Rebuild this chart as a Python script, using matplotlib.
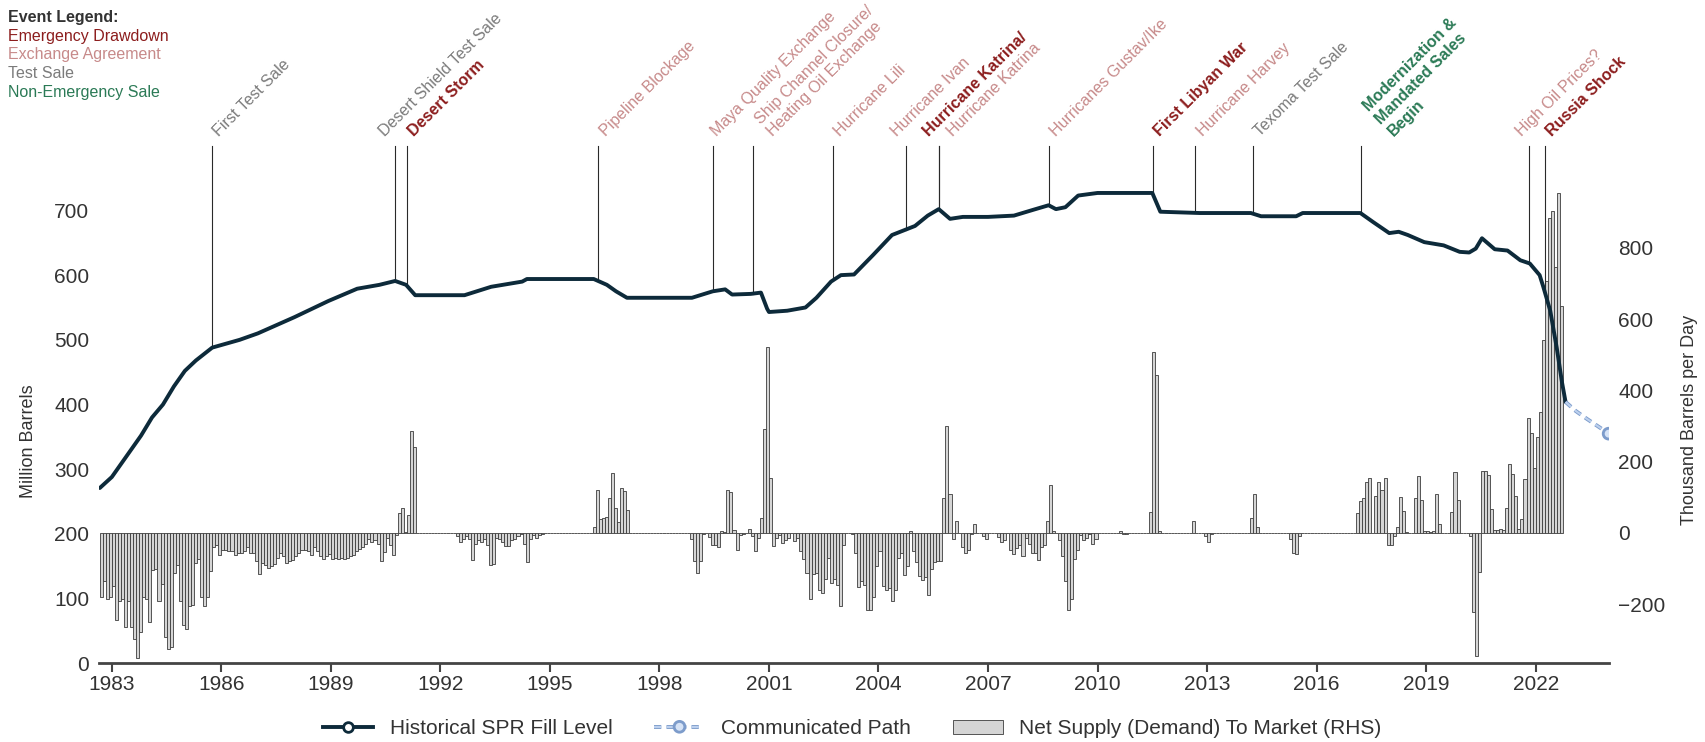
"""SPR fill level vs. net supply to market"""

import matplotlib
matplotlib.use("Agg")

import matplotlib.pyplot as plt
import matplotlib.patheffects as pe
from matplotlib.lines import Line2D
from matplotlib.patches import Patch
import numpy as np
import pandas as pd

plt.rcParams["font.family"] = ["Liberation Sans", "DejaVu Sans"]

# ── data ─────────────────────────────────────────────────────

# historical SPR fill level (million barrels)
line_years = [1982.67, 1983.0, 1983.4, 1983.8, 1984.1, 1984.4, 1984.7, 1985.0,
              1985.3, 1985.75, 1986.5, 1987.0, 1988.0, 1988.93, 1989.72, 1990.33,
              1990.76, 1991.06, 1991.31, 1992.66, 1993.39, 1994.24, 1994.37, 1996.2,
              1996.56, 1996.81, 1997.11, 1998.89, 1999.46, 1999.8, 1999.99, 2000.5,
              2000.78, 2000.95, 2001.0, 2001.5, 2002.0, 2002.3, 2002.7, 2002.97,
              2003.33, 2003.85, 2004.37, 2004.73, 2005.0, 2005.35, 2005.65, 2005.96,
              2006.31, 2007.0, 2007.71, 2008.24, 2008.66, 2008.86, 2009.12, 2009.47,
              2010.0, 2011.5, 2011.72, 2012.8, 2014.2, 2014.48, 2015.44, 2015.62,
              2017.2, 2017.55, 2017.99, 2018.25, 2018.5, 2018.95, 2019.48, 2019.92,
              2020.18, 2020.36, 2020.53, 2020.88, 2021.23, 2021.58, 2021.84, 2022.11,
              2022.21, 2022.4, 2022.58, 2022.72, 2022.82]
line_levels = [271, 288, 320, 352, 380, 400, 428, 452,
               468, 488, 500, 510, 535, 560, 579, 585,
               591, 585, 569, 569, 582, 590, 594, 594,
               585, 575, 565, 565, 575, 578, 570, 571,
               573, 548, 543, 545, 550, 565, 590, 600,
               601, 631, 662, 670, 676, 692, 702, 687,
               690, 690, 692, 701, 708, 702, 705, 723,
               727, 727, 698, 696, 696, 691, 691, 696,
               696, 682, 665, 667, 662, 651, 646, 636,
               635, 641, 657, 640, 638, 623, 618, 600,
               582, 545, 487, 435, 404]

# communicated path
path_years = [2022.82, 2023.1, 2023.4, 2023.77, 2024.0]
path_levels = [404, 390, 378, 364, 355]

# monthly net supply (demand) to market, thousand barrels per day
flow_start = "1982-09"
flow_kbd = (
    [-181, -136, -186, -181, -150, -243, -190, -186, -263, -191,
     -263, -297, -352, -279, -179, -186, -249, -104, -100, -191,
     -144, -291, -325, -319, -112, -89, -191, -258, -270, -206,
     -203, -83, -72, -181, -204, -179, -107]
    + [-40, -35, -62, -48, -48, -50, -50, -62, -55, -55,
       -50, -40, -57, -57, -78, -114, -83, -90, -98, -93,
       -88, -70, -55, -64, -83, -78, -76, -64, -55, -48,
       -48, -50, -62, -38, -50, -64, -74, -64, -59, -74,
       -70, -74, -69, -74, -71, -64, -62, -52, -45, -40,
       -31, -16, -26, -19, -30, -78, -53, -13, -35, -62,
       -5]
    + [56, 70, 3, 51, 285, 242]
    + [0] * 13
    + [-9, -26, -16, -9, -18, -77, -31, -21, -26, -16,
       -33, -91, -86, -14, -18, -26, -37, -37, -19, -16,
       -9, -4, -31, -81, -18, -5, -13, -5, -2]
    + [0] * 16
    + [16, 120, 39, 43, 46, 97, 169, 70, 31, 127, 118, 65]
    + [0] * 20
    + [-16, -79, -112, -78, -4, 0, -11, -33, -33, -38,
       6, 2, 122, 115, 7, -48, -7, -2, 0, 12,
       -9, -50, -13, 41, 293, 522, 153, -36, -14, -7,
       -27, -21, -13, 0, -23, -14, -50, -72, -112, -186,
       -114, -112, -160, -169, -129, -69, -141, -129, -145, -206,
       -33, 0, 0, -4, -55, -152, -136, -145, -217, -215,
       -179, -93, -50, -150, -160, -155, -191, -160, -69, -55,
       -117, -93, 5, -50, -81, -120, -132, -124, -174, -100,
       -81, -78, -80, 99, 300, 108, -17, 33, 0, -38,
       -56, -48, -4, 24, 0, 0, -9, -16, 0, 0,
       0, -11, -24, -21, 0, -48, -59, -43,
       -33, -66, -13, -31, -55, -57, -76, -40, -33, 33,
       135, 6, 0, -19, -66]
    + [-136, -217, -186, -74, -47, -7, -21, -13, -4, -31, -16]
    + [0] * 7 + [5, -4, -2]
    + [0] * 7 + [59, 508, 443, 6]
    + [0] * 10 + [33]
    + [0] * 3 + [-9, -26, -2]
    + [0] * 12 + [41, 108, 16]
    + [0] * 10 + [-18, -55, -59, -9]
    + [0] * 18
    + [56, 89, 97, 142, 154, 0, 103, 142, 122, 154,
       -35, -35, -9, 17, 100, 62, 2, 0, 0]
    + [99, 159, 92, 5, 5, 3, 5, 108, 26, 0, 0, 0,
       59, 170, 92, 0, 0, 0, -8, -222, -345, -110]
    + [175, 175, 164, 67, 9, 9, 11, 9, 70, 194, 166, 105, 10, 40]
    + [152, 323, 280, 183, 270, 340, 542, 708, 883, 904, 746, 954, 638]
)

# events
event_years = [1985.74, 1990.75, 1991.08, 1996.32, 1999.46, 2000.57, 2002.75,
               2004.75, 2005.65, 2005.65, 2008.66, 2011.51, 2012.67, 2014.25,
               2017.23, 2021.83, 2022.25]
event_labels = ["First Test Sale", "Desert Shield Test Sale", "Desert Storm",
                "Pipeline Blockage", "Maya Quality Exchange",
                "Ship Channel Closure/\nHeating Oil Exchange", "Hurricane Lili",
                "Hurricane Ivan", "Hurricane Katrina/", "Hurricane Katrina",
                "Hurricanes Gustav/Ike", "First Libyan War", "Hurricane Harvey",
                "Texoma Test Sale", "Modernization &\nMandated Sales\nBegin",
                "High Oil Prices?", "Russia Shock"]
event_kinds = ["test", "test", "emergency", "exchange", "exchange", "exchange",
               "exchange", "exchange", "emergency", "exchange", "exchange",
               "emergency", "exchange", "test", "nonemergency", "exchange",
               "emergency"]

legend_kinds = ["emergency", "exchange", "test", "nonemergency"]
legend_names = ["Emergency Drawdown", "Exchange Agreement", "Test Sale",
                "Non-Emergency Sale"]

# ── styles ───────────────────────────────────────────────────

KIND_COLORS = {"emergency": "#8c1d1d", "exchange": "#c78a8a",
               "test": "#7b7b7b", "nonemergency": "#2b7a56"}
KIND_WEIGHT = {"emergency": "bold", "exchange": "normal",
               "test": "normal", "nonemergency": "bold"}
# horizontal nudges (points) for crowded labels
LABEL_NUDGE = {"Desert Shield Test Sale": -12.5, "Maya Quality Exchange": -2,
               "Hurricane Ivan": -11.5, "Hurricane Katrina/": -12.5,
               "Hurricane Katrina": 5, "High Oil Prices?": -11}

LINE_COLOR = "#0d2a3a"
TEXT_COLOR = "#333333"
PATH_COLOR = "#bcd0ee"
PATH_EDGE = "#7d9ccb"

# ── figure ───────────────────────────────────────────────────

fig = plt.figure(figsize=(17.05, 7.42), dpi=100)
fig.patch.set_facecolor("white")
ax = fig.add_axes([0.0581, 0.106, 0.8856, 0.6976])
ax2 = ax.twinx()
ax.set_zorder(ax2.get_zorder() + 1)
ax.patch.set_visible(False)

# bars (RHS)
months = pd.period_range(flow_start, periods=len(flow_kbd), freq="M")
flow_x = np.asarray(months.year + (months.month - 1) / 12.0, dtype=float)
ax2.bar(flow_x, flow_kbd, width=1 / 12, align="edge", color="#d5d5d5",
        edgecolor="#3c3c3c", linewidth=0.6)

# fill level line
ax.plot(line_years, line_levels, color=LINE_COLOR, linewidth=2.8,
        solid_capstyle="round", solid_joinstyle="round", zorder=4)

# communicated path
path_fx = [pe.Stroke(linewidth=2.8, foreground=PATH_EDGE), pe.Normal()]
ax.plot(path_years, path_levels, color=PATH_COLOR, linewidth=1.5,
        linestyle=(0, (3.5, 2.5)), marker="o", markevery=[len(path_years) - 1],
        markersize=7, markerfacecolor="#d6e3f6", markeredgecolor=PATH_EDGE,
        markeredgewidth=1.3, path_effects=path_fx, zorder=4)

# axis limits
ax.set_xlim(1982.65, 2024.01)
ax.set_ylim(0, 800)
ax2.set_ylim(-366, 1087)

ax.set_yticks(range(0, 800, 100))
ax2.set_yticks(range(-200, 1000, 200))
ax.set_xticks(range(1983, 2023, 3))

for a in (ax, ax2):
    for side in ("top", "left", "right", "bottom"):
        a.spines[side].set_visible(False)
ax.spines["bottom"].set_visible(True)
ax.spines["bottom"].set_linewidth(2.0)
ax.spines["bottom"].set_color("#444444")

ax.tick_params(axis="y", length=0, labelsize=15, labelcolor=TEXT_COLOR, pad=7)
ax2.tick_params(axis="y", length=0, labelsize=15, labelcolor=TEXT_COLOR, pad=6.5)
ax.tick_params(axis="x", length=6.5, width=1.5, color="#444444",
               labelsize=15, labelcolor=TEXT_COLOR, pad=2)

ax.set_ylabel("Million Barrels", fontsize=13, color=TEXT_COLOR)
ax.yaxis.set_label_coords(-0.041, 0.43)
ax2.set_ylabel("Thousand Barrels per Day", fontsize=13, color=TEXT_COLOR)
ax2.yaxis.set_label_coords(1.048, 0.47)

# ── event markers ────────────────────────────────────────────

ytop = ax.get_ylim()[1]
for yr, label, kind in zip(event_years, event_labels, event_kinds):
    level = np.interp(yr, line_years, line_levels)
    ax.plot([yr, yr], [level, ytop], color="#2a2a2a", linewidth=0.8,
            zorder=2, clip_on=False)
    ax.annotate(label, xy=(yr, ytop), xycoords="data",
                xytext=(-0.8 + LABEL_NUDGE.get(label, 0), 4.8),
                textcoords="offset points", rotation=45, ha="left", va="bottom",
                fontsize=11.5, color=KIND_COLORS[kind], fontweight=KIND_WEIGHT[kind],
                annotation_clip=False)

# event legend, top left
fig.text(8 / 1705, 1 - 21.7 / 742, "Event Legend:", fontsize=11.5,
         fontweight="bold", color=TEXT_COLOR, va="baseline", ha="left")
for k, (kind, name) in enumerate(zip(legend_kinds, legend_names)):
    fig.text(8 / 1705, 1 - (40.5 + 18.8 * k) / 742, name, fontsize=11.5,
             color=KIND_COLORS[kind], va="baseline", ha="left")

# ── bottom legend ────────────────────────────────────────────

handles = [
    Line2D([], [], color=LINE_COLOR, linewidth=2.8, marker="o", markersize=7,
           markerfacecolor="white", markeredgecolor=LINE_COLOR, markeredgewidth=2),
    Line2D([], [], color=PATH_COLOR, linewidth=1.5, linestyle=(0, (3.5, 2.5)),
           marker="o", markersize=7, markerfacecolor="#d6e3f6",
           markeredgecolor=PATH_EDGE, markeredgewidth=1.3, path_effects=path_fx),
    Patch(facecolor="#d5d5d5", edgecolor="#3c3c3c", linewidth=0.6),
]
labels = ["Historical SPR Fill Level", "Communicated Path",
          "Net Supply (Demand) To Market (RHS)"]
leg = fig.legend(handles, labels, loc="lower center", bbox_to_anchor=(0.5, -0.02),
                 ncol=3, frameon=False, fontsize=15, handlelength=2.4,
                 handletextpad=0.8, columnspacing=2.0)
for t in leg.get_texts():
    t.set_color(TEXT_COLOR)

fig.savefig("out.png", dpi=100, facecolor="white")
plt.close(fig)
